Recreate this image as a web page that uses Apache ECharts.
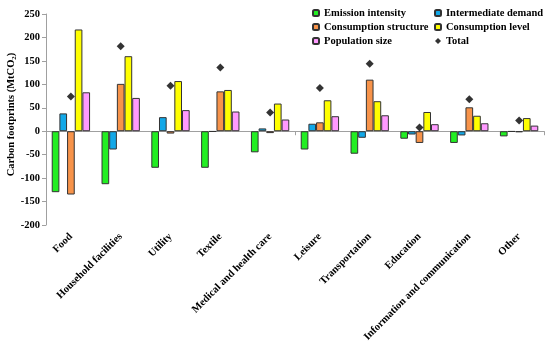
<!DOCTYPE html>
<html><head><meta charset="utf-8">
<script src="https://cdn.jsdelivr.net/npm/echarts@6/dist/echarts.min.js"></script>
<style>html,body{margin:0;padding:0;background:#fff}#c{width:550px;height:347px}</style>
</head><body><div id="c"></div>
<script>
const categories = ['Food','Household facilities','Utility','Textile','Medical and health care','Leisure','Transportation','Education','Information and communication','Other'];
const emissionIntensity = [-130,-113,-78,-78,-45,-39,-48,-16,-25,-11];
const intermediateDemand = [38,-39,30,-1,6,16,-14,-7,-9,-1];
const consumptionStructure = [-135,101,-5,85,-4,19,110,-25,51,-2];
const consumptionLevel = [217,160,107,88,59,66,64,41,33,28];
const populationSize = [83,71,45,42,25,32,34,15,17,12];
const total = [74,181,97,136,40,92,144,8,68,23];
const yTicks = {min:-200, max:250, interval:50};

const font = '"Liberation Serif","Times New Roman",serif';
const border = {borderColor:'#333', borderWidth:1};
function bar(name, data, color){
  return {name, type:'bar', data, xAxisIndex:0, barGap:'0%', barCategoryGap:'23%',
    itemStyle:Object.assign({color}, border)};
}
const chart = echarts.init(document.getElementById('c'));
const legendText = {fontFamily:font, fontWeight:'bold', fontSize:10.5, color:'#000', lineHeight:12};
chart.setOption({
  animation:false,
  grid:{left:46, right:6, top:14, bottom:122, containLabel:false, outerBoundsMode:'none'},
  legend:[
    {orient:'vertical', left:312, top:7, padding:0, itemWidth:6, itemHeight:6, itemGap:2, textStyle:legendText,
     data:['Emission intensity','Consumption structure','Population size']},
    {orient:'vertical', left:434, top:7, padding:0, itemWidth:6, itemHeight:6, itemGap:2, textStyle:legendText,
     data:['Intermediate demand','Consumption level',{name:'Total', icon:'diamond'}]}
  ],
  xAxis:[
    {type:'category', data:categories, position:'bottom',
     axisLine:{onZero:true, lineStyle:{color:'#a0a0a0'}},
     axisTick:{show:true, length:4, lineStyle:{color:'#a0a0a0'}},
     axisLabel:{show:false}},
    {type:'category', data:categories, position:'bottom',
     axisLine:{show:false, onZero:false}, axisTick:{show:false},
     axisLabel:{interval:0, rotate:45, margin:10, fontFamily:font, fontWeight:'bold', fontSize:10.5, color:'#000'}}
  ],
  yAxis:{type:'value', min:yTicks.min, max:yTicks.max, interval:yTicks.interval,
    name:'{a|Carbon footprints (MtCO}{b|2}{a|)}', nameLocation:'middle', nameGap:28, nameRotate:90,
    nameMoveOverlap:false,
    nameTextStyle:{padding:[0,0,0,10],
                   rich:{a:{fontFamily:font, fontWeight:'bold', fontSize:10.5, color:'#000', lineHeight:13},
                          b:{fontFamily:font, fontWeight:'bold', fontSize:7, color:'#000', verticalAlign:'bottom', lineHeight:13}}},
    axisLine:{show:true, lineStyle:{color:'#a0a0a0'}},
    axisTick:{show:true, length:4, lineStyle:{color:'#a0a0a0'}},
    splitLine:{show:false},
    axisLabel:{margin:6, fontFamily:font, fontWeight:'bold', fontSize:10.5, color:'#000'}},
  series:[
    bar('Emission intensity', emissionIntensity, '#22EE22'),
    bar('Intermediate demand', intermediateDemand, '#12A8E8'),
    bar('Consumption structure', consumptionStructure, '#F7934A'),
    bar('Consumption level', consumptionLevel, '#FFFF00'),
    bar('Population size', populationSize, '#FF99FF'),
    {name:'Total', type:'scatter', data:total, xAxisIndex:0, symbol:'diamond', symbolSize:8,
     itemStyle:{color:'#000'}}
  ]
});
</script></body></html>
